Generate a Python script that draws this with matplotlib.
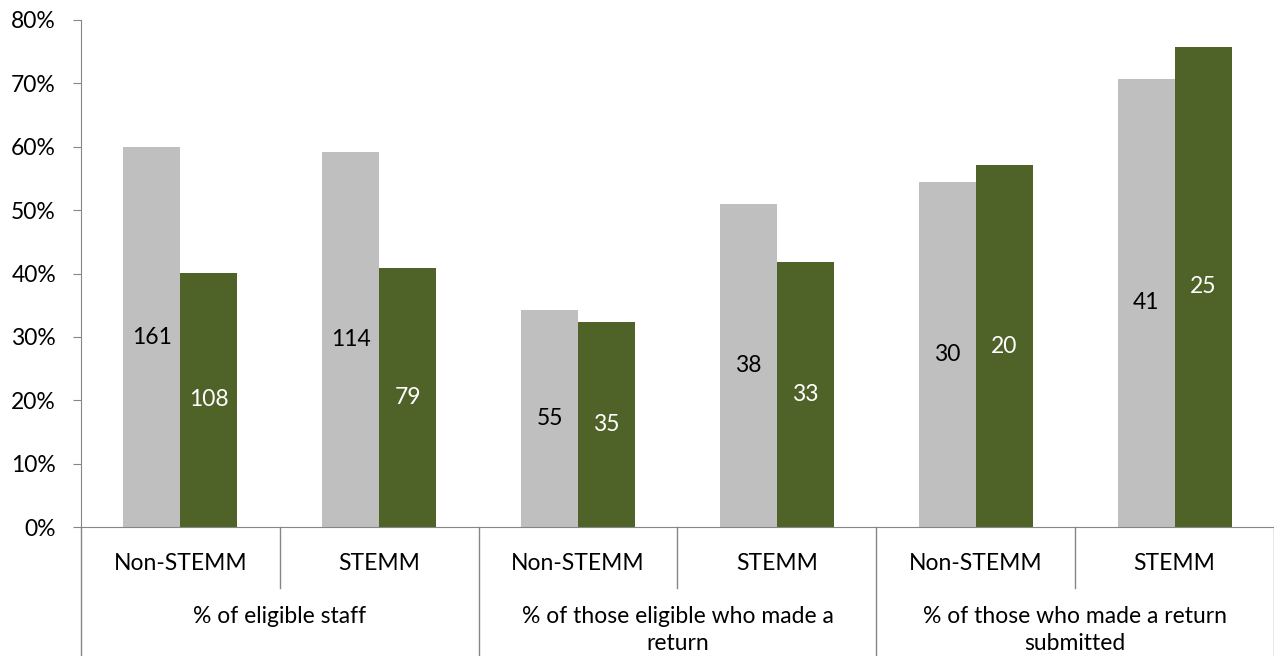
import numpy as np
import matplotlib.pyplot as plt

# données
groupes = ["% of eligible staff",
           "% of those eligible who made a\nreturn",
           "% of those who made a return\nsubmitted"]
categories = ["Non-STEMM", "STEMM", "Non-STEMM", "STEMM", "Non-STEMM", "STEMM"]
gris = [59.9, 59.1, 34.2, 50.9, 54.5, 70.7]
vert = [40.1, 40.9, 32.4, 41.8, 57.1, 75.8]
n_gris = [161, 114, 55, 38, 30, 41]
n_vert = [108, 79, 35, 33, 20, 25]

plt.rcParams['font.family'] = ['Lato', 'DejaVu Sans']
fs = 16.5
c_axe = '#868686'

fig = plt.figure(figsize=(12.74, 6.56), dpi=100)
ax = fig.add_axes([81/1274, 129/656, 1193/1274, 507/656])

x = np.arange(len(categories))
w = 0.287
b1 = ax.bar(x - w/2, gris, w, color='#BFBFBF')
b2 = ax.bar(x + w/2, vert, w, color='#4F6228')

for r, n in zip(b1, n_gris):
    ax.text(r.get_x() + r.get_width()/2, r.get_height()/2, str(n),
            ha='center', va='center', fontsize=fs, color='black')
for r, n in zip(b2, n_vert):
    ax.text(r.get_x() + r.get_width()/2, r.get_height()/2, str(n),
            ha='center', va='center', fontsize=fs, color='white')

ax.set_xlim(-0.5, len(categories) - 0.5)
ax.set_ylim(0, 80)
ax.set_yticks(np.arange(0, 81, 10))
ax.set_yticklabels([f"{v}%" for v in range(0, 81, 10)], fontsize=fs)
ax.set_xticks([])

for s in ['top', 'right']:
    ax.spines[s].set_visible(False)
ax.spines['left'].set_color(c_axe)
ax.spines['bottom'].set_color(c_axe)
ax.tick_params(axis='y', length=6, color=c_axe, pad=12)

# axe des catégories à deux niveaux
tr = ax.get_xaxis_transform()
bas = -129/507
ax.plot([-0.5, -0.5], [0, bas], color=c_axe, lw=1, transform=tr, clip_on=False)
for i, cat in enumerate(categories):
    ax.text(i, -36/507, cat, ha='center', va='center', fontsize=fs, transform=tr)
for g, nom in enumerate(groupes):
    centre = 2*g + 0.5
    ax.plot([centre, centre], [0, -61/507], color=c_axe, lw=1, transform=tr, clip_on=False)
    ax.plot([2*g + 1.5]*2, [0, bas], color=c_axe, lw=1, transform=tr, clip_on=False)
    ax.text(centre, -79/507, nom, ha='center', va='top', fontsize=fs,
            linespacing=1.33, transform=tr)

fig.savefig('out.png', dpi=100)
